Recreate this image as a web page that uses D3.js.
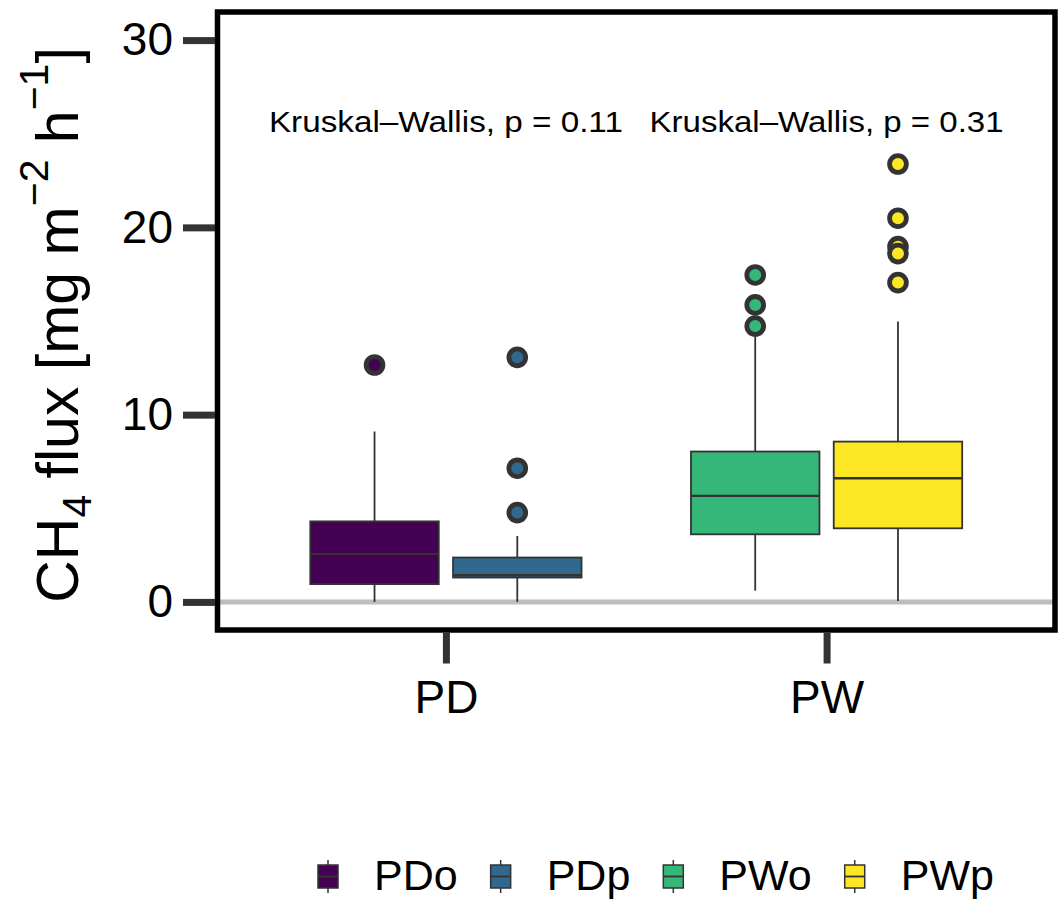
<!DOCTYPE html>
<html>
<head>
<meta charset="utf-8">
<script src="https://cdn.jsdelivr.net/npm/d3@7"></script>
<style>
  html, body { margin: 0; padding: 0; background: #ffffff; }
  svg { display: block; font-family: "Liberation Sans", Arial, sans-serif; }
</style>
</head>
<body>
<svg id="chart" width="1060" height="909"></svg>
<script>
// ---------------- data ----------------
const groups = ["PD", "PW"];
const series = ["PDo", "PDp", "PWo", "PWp"];
const seriesGroup = ["PD", "PD", "PW", "PW"];
const seriesDodge = [-1, 1, -1, 1];
const colors = ["#440154", "#31688E", "#35B779", "#FDE725"];
const whiskerLow = [0, 0, 0.6, 0.05];
const q1 = [0.95, 1.3, 3.61, 3.93];
const medians = [2.55, 1.42, 5.66, 6.6];
const q3 = [4.3, 2.37, 8.03, 8.56];
const whiskerHigh = [9.1, 3.52, 14.6, 14.97];
const outliers = [
  [12.65],
  [13.06, 7.14, 4.77],
  [17.46, 15.86, 14.73],
  [23.38, 20.49, 18.97, 18.6, 17.05]
];
const kwLabels = ["Kruskal\u2013Wallis, p = 0.11", "Kruskal\u2013Wallis, p = 0.31"];
const yTicks = [0, 10, 20, 30];
const refLine = 0;

// ---------------- layout ----------------
const svg = d3.select("#chart");
const panel = { left: 217.5, right: 1055, top: 12, bottom: 630 };

const x = d3.scalePoint().domain(groups).range([panel.left, panel.right]).padding(0.6);
const step = x.step();
const dodgeOffset = step * 0.1875;
const boxWidth = step * 0.3375;
const y = d3.scaleLinear().domain([-1.5, 31.5]).range([panel.bottom, panel.top]);

const dark = "#333333";

// reference line at 0
svg.append("line")
  .attr("x1", panel.left).attr("x2", panel.right)
  .attr("y1", y(refLine)).attr("y2", y(refLine))
  .attr("stroke", "#BEBEBE").attr("stroke-width", 5);

// boxes
const data = series.map((s, i) => ({
  name: s, group: seriesGroup[i], dodge: seriesDodge[i], color: colors[i],
  lo: whiskerLow[i], q1: q1[i], med: medians[i], q3: q3[i], hi: whiskerHigh[i], out: outliers[i]
}));

const cx = d => x(d.group) + d.dodge * dodgeOffset;

const g = svg.append("g");
const bx = g.selectAll("g.box").data(data).join("g").attr("class", "box");

bx.append("line")
  .attr("x1", cx).attr("x2", cx)
  .attr("y1", d => y(d.hi)).attr("y2", d => y(d.q3))
  .attr("stroke", dark).attr("stroke-width", 1.8);
bx.append("line")
  .attr("x1", cx).attr("x2", cx)
  .attr("y1", d => y(d.q1)).attr("y2", d => y(d.lo))
  .attr("stroke", dark).attr("stroke-width", 1.8);
bx.append("rect")
  .attr("x", d => cx(d) - boxWidth / 2).attr("width", boxWidth)
  .attr("y", d => y(d.q3)).attr("height", d => y(d.q1) - y(d.q3))
  .attr("fill", d => d.color).attr("stroke", dark).attr("stroke-width", 1.8);
bx.append("line")
  .attr("x1", d => cx(d) - boxWidth / 2).attr("x2", d => cx(d) + boxWidth / 2)
  .attr("y1", d => y(d.med)).attr("y2", d => y(d.med))
  .attr("stroke", dark).attr("stroke-width", 2.4);
bx.selectAll("circle").data(d => d.out.map(v => ({ v, d }))).join("circle")
  .attr("cx", o => cx(o.d)).attr("cy", o => y(o.v)).attr("r", 8.4)
  .attr("fill", o => o.d.color).attr("stroke", dark).attr("stroke-width", 4.8);

// Kruskal-Wallis labels
svg.selectAll("text.kw").data(groups).join("text")
  .attr("class", "kw")
  .attr("x", d => x(d)).attr("y", 131.5)
  .attr("text-anchor", "middle")
  .attr("font-size", 30)
  .attr("textLength", 354).attr("lengthAdjust", "spacingAndGlyphs")
  .attr("fill", "#000")
  .text((d, i) => kwLabels[i]);

// panel border
svg.append("rect")
  .attr("x", panel.left).attr("y", panel.top)
  .attr("width", panel.right - panel.left).attr("height", panel.bottom - panel.top)
  .attr("fill", "none").attr("stroke", "#000").attr("stroke-width", 5.5);

// y axis
const yAxis = d3.axisLeft(y).tickValues(yTicks).tickSize(32).tickPadding(10).tickFormat(d3.format("d"));
const ya = svg.append("g").attr("transform", `translate(${panel.left - 2.5},0)`).call(yAxis);
ya.select(".domain").remove();
ya.selectAll(".tick line").attr("stroke", dark).attr("stroke-width", 7);
ya.selectAll(".tick text").attr("font-size", 46).attr("fill", "#000")
  .attr("font-family", "Liberation Sans, Arial, sans-serif");

// x axis
const xAxis = d3.axisBottom(x).tickSize(31).tickPadding(17);
const xa = svg.append("g").attr("transform", `translate(0,${panel.bottom + 2.5})`).call(xAxis);
xa.select(".domain").remove();
xa.selectAll(".tick line").attr("stroke", dark).attr("stroke-width", 7);
xa.selectAll(".tick text").attr("font-size", 46).attr("fill", "#000")
  .attr("font-family", "Liberation Sans, Arial, sans-serif");

// y title
const yt = svg.append("text")
  .attr("transform", `translate(78,${(40 + 610) / 2}) rotate(-90)`)
  .attr("text-anchor", "middle")
  .attr("font-size", 59).attr("fill", "#000");
yt.append("tspan").text("CH");
yt.append("tspan").attr("font-size", 41).attr("dy", 13).text("4");
yt.append("tspan").attr("dy", -13).text(" flux [mg m");
yt.append("tspan").attr("font-size", 41).attr("dy", -30).text("\u22122");
yt.append("tspan").attr("dy", 30).text(" h");
yt.append("tspan").attr("font-size", 41).attr("dy", -30).text("\u22121");
yt.append("tspan").attr("dy", 30).text("]");

// legend
const legend = svg.append("g");
let lx = 328;
const ly = 876.5;
series.forEach((s, i) => {
  const it = legend.append("g").attr("transform", `translate(${lx},${ly})`);
  it.append("line").attr("x1", 0).attr("x2", 0).attr("y1", -16.5).attr("y2", 16.5)
    .attr("stroke", dark).attr("stroke-width", 1.5);
  it.append("rect").attr("x", -10).attr("y", -11.5).attr("width", 20).attr("height", 23)
    .attr("fill", colors[i]).attr("stroke", dark).attr("stroke-width", 1.5);
  it.append("line").attr("x1", -10).attr("x2", 10).attr("y1", 0).attr("y2", 0)
    .attr("stroke", dark).attr("stroke-width", 1.8);
  const t = it.append("text").attr("x", 46).attr("y", 13.5)
    .attr("font-size", 43).attr("fill", "#000").text(s);
  const w = t.node().getComputedTextLength();
  lx = lx + 46 + w + 43;
});
</script>
</body>
</html>
